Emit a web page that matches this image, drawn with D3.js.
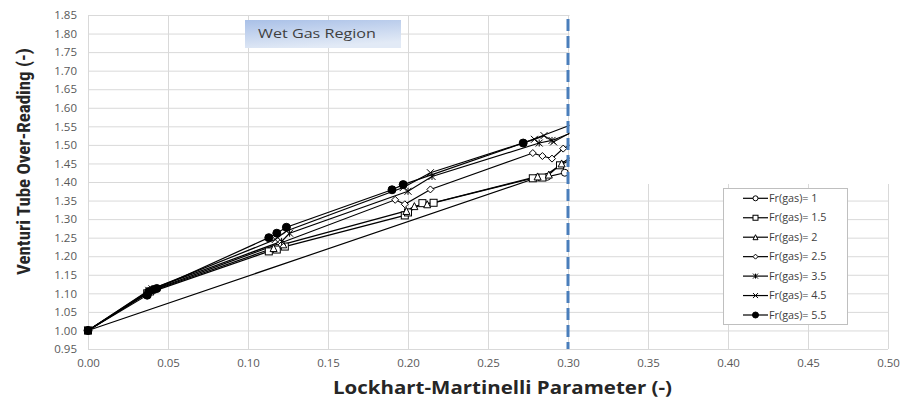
<!DOCTYPE html>
<html>
<head>
<meta charset="utf-8">
<script src="https://cdn.jsdelivr.net/npm/d3@7"></script>
<style>
  html, body { margin: 0; padding: 0; background: #fff; }
  svg { display: block; }
</style>
</head>
<body>
<svg id="chart" width="903" height="405"></svg>
<script>
// Venturi over-reading against Lockhart-Martinelli parameter, one series per gas Froude number
const seriesNames = ["Fr(gas)= 1", "Fr(gas)= 1.5", "Fr(gas)= 2", "Fr(gas)= 2.5", "Fr(gas)= 3.5", "Fr(gas)= 4.5", "Fr(gas)= 5.5"];
const markerTypes = ["circle", "square", "triangle", "diamond", "asterisk", "cross", "dot"];

const fr1X  = [0, 0.281, 0.287, 0.298];
const fr1Y  = [1.00, 1.412, 1.414, 1.425];
const fr15X = [0, 0.037, 0.113, 0.118, 0.123, 0.198, 0.200, 0.209, 0.216, 0.278, 0.284, 0.295, 0.320];
const fr15Y = [1.00, 1.100, 1.213, 1.218, 1.226, 1.310, 1.318, 1.343, 1.344, 1.410, 1.412, 1.445, 1.500];
const fr2X  = [0, 0.039, 0.116, 0.122, 0.199, 0.204, 0.212, 0.281, 0.288, 0.296, 0.320];
const fr2Y  = [1.00, 1.105, 1.222, 1.232, 1.322, 1.335, 1.340, 1.415, 1.420, 1.450, 1.520];
const fr25X = [0, 0.040, 0.120, 0.192, 0.198, 0.214, 0.278, 0.284, 0.290, 0.297, 0.320];
const fr25Y = [1.00, 1.108, 1.235, 1.352, 1.340, 1.380, 1.478, 1.470, 1.463, 1.490, 1.540];
const fr35X = [0, 0.040, 0.121, 0.126, 0.200, 0.215, 0.282, 0.290, 0.330];
const fr35Y = [1.00, 1.112, 1.240, 1.262, 1.375, 1.415, 1.505, 1.512, 1.580];
const fr45X = [0, 0.038, 0.117, 0.124, 0.197, 0.214, 0.279, 0.285, 0.291, 0.330];
const fr45Y = [1.00, 1.108, 1.245, 1.268, 1.385, 1.425, 1.515, 1.525, 1.508, 1.600];
const fr55X = [0, 0.037, 0.038, 0.041, 0.043, 0.113, 0.118, 0.124, 0.190, 0.197, 0.272, 0.330];
const fr55Y = [1.00, 1.095, 1.105, 1.110, 1.113, 1.250, 1.262, 1.278, 1.379, 1.393, 1.505, 1.600];

const xTicks = [0, 0.05, 0.10, 0.15, 0.20, 0.25, 0.30, 0.35, 0.40, 0.45, 0.50];
const yTicks = [0.95, 1.00, 1.05, 1.10, 1.15, 1.20, 1.25, 1.30, 1.35, 1.40, 1.45, 1.50, 1.55, 1.60, 1.65, 1.70, 1.75, 1.80, 1.85];
const wetGasLimit = 0.30;

const xs = [fr1X, fr15X, fr2X, fr25X, fr35X, fr45X, fr55X];
const ys = [fr1Y, fr15Y, fr2Y, fr25Y, fr35Y, fr45Y, fr55Y];
const series = seriesNames.map((name, i) => ({
  name, marker: markerTypes[i],
  points: xs[i].map((x, j) => ({ x, y: ys[i][j] }))
}));

const svg = d3.select("#chart");
const plotL = 88, plotR = 888, plotT = 15, plotB = 349;
const x = d3.scaleLinear().domain([0, 0.5]).range([plotL, plotR]);
const y = d3.scaleLinear().domain([0.95, 1.85]).range([plotB, plotT]);

const tickFont = "'Open Sans', 'DejaVu Sans', sans-serif";
const titleFont = "'Liberation Sans Narrow', 'Roboto Condensed', Roboto, sans-serif";

// gridlines and tick labels
const gx = svg.append("g").attr("transform", `translate(0,${plotB})`)
  .call(d3.axisBottom(x).tickValues(xTicks).tickFormat(d3.format(".2f"))
    .tickSize(-(plotB - plotT)).tickPadding(10));
const gy = svg.append("g").attr("transform", `translate(${plotL},0)`)
  .call(d3.axisLeft(y).tickValues(yTicks).tickFormat(d3.format(".2f"))
    .tickSize(-(plotR - plotL)).tickPadding(11));
[gx, gy].forEach(g => {
  g.select(".domain").remove();
  g.selectAll(".tick line").attr("stroke", "#d9d9d9").attr("stroke-width", 1);
  g.selectAll(".tick text").attr("fill", "#595959").style("font-family", tickFont).style("font-size", "11.5px");
});

// series lines
const line = d3.line().x(d => x(d.x)).y(d => y(d.y));
const gs = svg.append("g");
gs.selectAll("path.series").data(series).join("path")
  .attr("class", "series")
  .attr("d", d => line(d.points))
  .attr("fill", "none").attr("stroke", "#000").attr("stroke-width", 1.2);

// marker shapes
function drawMarker(sel, type, s) {
  const h = s / 2;
  if (type === "circle") sel.append("circle").attr("r", h).attr("fill", "#fff").attr("stroke", "#000");
  else if (type === "dot") sel.append("circle").attr("r", h + 0.5).attr("fill", "#000").attr("stroke", "#000");
  else if (type === "square") sel.append("rect").attr("x", -h).attr("y", -h).attr("width", s).attr("height", s).attr("fill", "#fff").attr("stroke", "#000");
  else if (type === "triangle") sel.append("path").attr("d", `M0,${-h}L${h},${h}L${-h},${h}Z`).attr("fill", "#fff").attr("stroke", "#000");
  else if (type === "diamond") sel.append("path").attr("d", `M0,${-h}L${h},0L0,${h}L${-h},0Z`).attr("fill", "#fff").attr("stroke", "#000");
  else if (type === "asterisk") sel.append("path").attr("d", `M${-h},${-h}L${h},${h}M${-h},${h}L${h},${-h}M0,${-h}L0,${h}`).attr("fill", "none").attr("stroke", "#000");
  else if (type === "cross") sel.append("path").attr("d", `M${-h},${-h}L${h},${h}M${-h},${h}L${h},${-h}`).attr("fill", "none").attr("stroke", "#000");
  sel.selectAll("*").attr("stroke-width", 1);
}

series.forEach(s => {
  s.points.forEach(p => {
    const g = gs.append("g").attr("transform", `translate(${x(p.x)},${y(p.y)})`);
    drawMarker(g, s.marker, 7);
  });
});

// blank panel right of the wet gas limit
svg.append("rect")
  .attr("x", x(wetGasLimit) + 1.5).attr("y", 0)
  .attr("width", plotR + 5 - x(wetGasLimit)).attr("height", y(1.40) + 2)
  .attr("fill", "#fff");

// wet gas limit
svg.append("line")
  .attr("x1", x(wetGasLimit)).attr("x2", x(wetGasLimit))
  .attr("y1", plotT + 4).attr("y2", plotB)
  .attr("stroke", "#4a7ebb").attr("stroke-width", 3)
  .attr("stroke-dasharray", "12,5");

// region label box
const defs = svg.append("defs");
const grad = defs.append("linearGradient").attr("id", "wetGrad")
  .attr("x1", "0").attr("y1", "0").attr("x2", "0.35").attr("y2", "1");
grad.append("stop").attr("offset", "0%").attr("stop-color", "#a9c0e7");
grad.append("stop").attr("offset", "100%").attr("stop-color", "#e2eaf6");
svg.append("rect").attr("x", 245).attr("y", 20).attr("width", 156).attr("height", 28).attr("fill", "url(#wetGrad)");
svg.append("text").attr("x", 258).attr("y", 37.5)
  .attr("fill", "#404040").style("font-family", tickFont).style("font-size", "13.5px")
  .attr("textLength", 118).attr("lengthAdjust", "spacingAndGlyphs")
  .text("Wet Gas Region");

// legend
const lg = svg.append("g");
lg.append("rect").attr("x", 723.5).attr("y", 188.5).attr("width", 124).attr("height", 136)
  .attr("fill", "#fff").attr("stroke", "#bfbfbf").attr("stroke-width", 1);
series.forEach((s, i) => {
  const yy = 198.3 + i * 19.45;
  lg.append("line").attr("x1", 743).attr("x2", 768).attr("y1", yy).attr("y2", yy)
    .attr("stroke", "#000").attr("stroke-width", 1.2);
  drawMarker(lg.append("g").attr("transform", `translate(755.5,${yy})`), s.marker, 5);
  lg.append("text").attr("x", 769).attr("y", yy + 3.5)
    .attr("fill", "#404040").style("font-family", tickFont).style("font-size", "10.8px")
    .text(s.name);
});

// axis titles
svg.append("text")
  .attr("x", 502.5).attr("y", 394)
  .attr("text-anchor", "middle").attr("fill", "#262626")
  .style("font-family", tickFont).style("font-size", "18.5px").style("font-weight", "bold")
  .attr("textLength", 339).attr("lengthAdjust", "spacingAndGlyphs")
  .text("Lockhart-Martinelli Parameter (-)");
svg.append("text")
  .attr("transform", "translate(30,161.5) rotate(-90)")
  .attr("text-anchor", "middle").attr("fill", "#262626")
  .style("font-family", titleFont)
  .style("font-size", "19px").style("font-weight", "bold")
  .attr("textLength", 227).attr("lengthAdjust", "spacingAndGlyphs")
  .text("Venturi Tube Over-Reading (-)");
</script>
</body>
</html>
